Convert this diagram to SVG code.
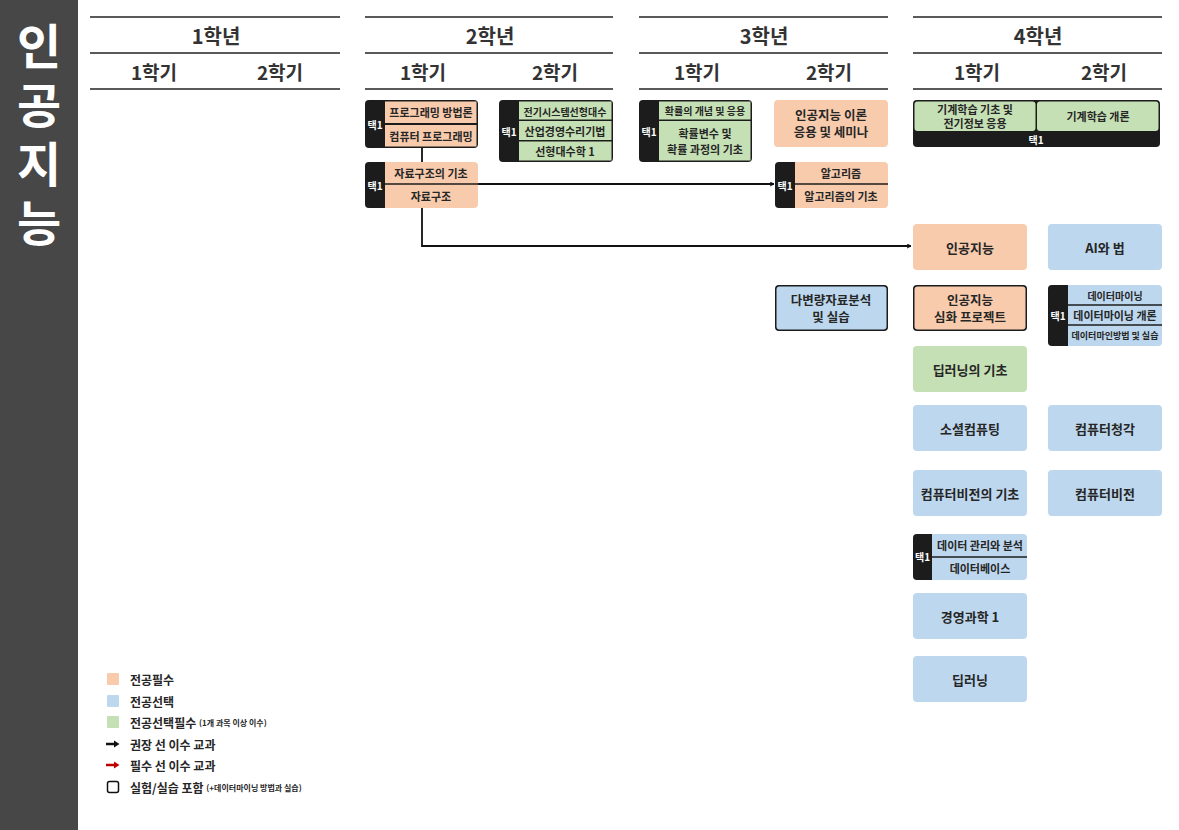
<svg xmlns="http://www.w3.org/2000/svg" width="1179" height="830" viewBox="0 0 1179 830">
<defs>
<style>
text{font-family:"Noto Sans CJK KR","Noto Sans",sans-serif;font-weight:700;fill:#262626;text-anchor:middle;dominant-baseline:central}
.hdr{font-size:20px;fill:#333}
.sem{font-size:19px;fill:#333}
.hl{stroke:#5a5a5a;stroke-width:2}
.pe{fill:#F8CBAD}
.bl{fill:#BDD7EE}
.gr{fill:#C5E0B4}
.dk{fill:#1c1c1c}
.t13{font-size:13px}
.t12{font-size:12.5px}
.t11{font-size:11px}
.t10{font-size:10px}
.tag{font-size:10px;fill:#fff}
.div{stroke:#1c1c1c;stroke-width:1.5}
.con{fill:none;stroke:#111;stroke-width:1.8}
.lg{font-size:12px;text-anchor:start}
.side{font-size:48px;fill:#fff;writing-mode:vertical-rl;text-orientation:upright;letter-spacing:11px}
</style>
<marker id="arr" viewBox="0 0 10 10" refX="9" refY="5" markerWidth="5" markerHeight="5" orient="auto" markerUnits="userSpaceOnUse">
<path d="M1,1 L9,5 L1,9" fill="none" stroke="#111" stroke-width="2"/>
</marker>
</defs>
<rect width="1179" height="830" fill="#fff"/>
<g id="sidebar">
<rect x="0" y="0" width="78" height="830" fill="#474747"/>
<text class="side" x="39" y="140">인공지능</text>
</g>
<g id="header">
<line class="hl" x1="90" y1="17" x2="340" y2="17"/><line class="hl" x1="90" y1="53" x2="340" y2="53"/><line class="hl" x1="90" y1="89" x2="340" y2="89"/>
<line class="hl" x1="365" y1="17" x2="613" y2="17"/><line class="hl" x1="365" y1="53" x2="613" y2="53"/><line class="hl" x1="365" y1="89" x2="613" y2="89"/>
<line class="hl" x1="639" y1="17" x2="888" y2="17"/><line class="hl" x1="639" y1="53" x2="888" y2="53"/><line class="hl" x1="639" y1="89" x2="888" y2="89"/>
<line class="hl" x1="913" y1="17" x2="1162" y2="17"/><line class="hl" x1="913" y1="53" x2="1162" y2="53"/><line class="hl" x1="913" y1="89" x2="1162" y2="89"/>
<text class="hdr" x="216" y="35">1학년</text>
<text class="hdr" x="490" y="35">2학년</text>
<text class="hdr" x="764" y="35">3학년</text>
<text class="hdr" x="1038" y="35">4학년</text>
<text class="sem" x="154" y="71">1학기</text><text class="sem" x="280" y="71">2학기</text>
<text class="sem" x="423" y="71">1학기</text><text class="sem" x="555" y="71">2학기</text>
<text class="sem" x="697" y="71">1학기</text><text class="sem" x="829" y="71">2학기</text>
<text class="sem" x="977" y="71">1학기</text><text class="sem" x="1104" y="71">2학기</text>
</g>
<g id="connectors">
<path class="con" d="M422,148 V246 H911" marker-end="url(#arr)"/>
<path class="con" d="M385,184 H774" marker-end="url(#arr)"/>
</g>
<g id="n-prog">
<rect class="dk" x="365" y="100" width="113" height="48" rx="4"/>
<rect class="pe" x="385" y="101.5" width="91.5" height="21.5"/>
<rect class="pe" x="385" y="125" width="91.5" height="21.5"/>
<text class="tag" x="375" y="124">택1</text>
<text class="t11" x="431" y="112">프로그래밍 방법론</text>
<text class="t11" x="431" y="136">컴퓨터 프로그래밍</text>
</g>
<g id="n-ds">
<rect class="pe" x="365" y="162" width="113" height="46" rx="4"/>
<path class="dk" d="M385,162 H369 a4,4 0 0 0 -4,4 V204 a4,4 0 0 0 4,4 H385 Z"/>
<line class="div" x1="385" y1="184" x2="478" y2="184"/>
<text class="tag" x="375" y="185">택1</text>
<text class="t11" x="431" y="173">자료구조의 기초</text>
<text class="t11" x="431" y="196">자료구조</text>
</g>
<g id="n-linalg">
<rect class="dk" x="499" y="100" width="114" height="62" rx="4"/>
<rect class="gr" x="519" y="101.5" width="92.5" height="18"/>
<rect class="gr" x="519" y="121" width="92.5" height="19"/>
<rect class="gr" x="519" y="141.5" width="92.5" height="19"/>
<text class="tag" x="509" y="131">택1</text>
<text class="t10" x="565" y="111">전기시스템선형대수</text>
<text class="t11" x="565" y="131">산업경영수리기법</text>
<text class="t11" x="565" y="151">선형대수학 1</text>
</g>
<g id="n-prob">
<rect class="dk" x="639" y="100" width="113" height="62" rx="4"/>
<rect class="gr" x="659" y="101.5" width="91.5" height="18"/>
<rect class="gr" x="659" y="121" width="91.5" height="39.5"/>
<text class="tag" x="649" y="131">택1</text>
<text class="t10" x="705" y="110">확률의 개념 및 응용</text>
<text class="t11" x="705" y="133">확률변수 및</text>
<text class="t11" x="705" y="149">확률 과정의 기초</text>
</g>
<g id="n-aiseminar">
<rect class="pe" x="774" y="100" width="114" height="47" rx="4"/>
<text class="t12" x="831" y="114">인공지능 이론</text>
<text class="t12" x="831" y="131.5">응용 및 세미나</text>
</g>
<g id="n-algo">
<rect class="pe" x="775" y="162" width="113" height="46" rx="4"/>
<path class="dk" d="M795,162 H779 a4,4 0 0 0 -4,4 V204 a4,4 0 0 0 4,4 H795 Z"/>
<line class="div" x1="795" y1="184" x2="888" y2="184"/>
<text class="tag" x="785" y="185">택1</text>
<text class="t11" x="841" y="173">알고리즘</text>
<text class="t11" x="841" y="196">알고리즘의 기초</text>
</g>
<g id="n-multivar">
<rect class="dk" x="775" y="285" width="113" height="46" rx="4"/>
<rect class="bl" x="776.5" y="286.5" width="110" height="43" rx="3"/>
<text class="t12" x="831" y="299">다변량자료분석</text>
<text class="t12" x="831" y="316.5">및 실습</text>
</g>
<g id="n-ml">
<rect class="dk" x="913" y="100" width="247" height="47" rx="4"/>
<rect class="gr" x="914.5" y="101.5" width="121" height="29.5" rx="3"/>
<rect class="gr" x="1037" y="101.5" width="121.5" height="29.5" rx="3"/>
<text class="tag" x="1036" y="139">택1</text>
<text class="t11" x="975" y="109">기계학습 기초 및</text>
<text class="t11" x="975" y="123">전기정보 응용</text>
<text class="t11" x="1098" y="116">기계학습 개론</text>
</g>
<g id="n-ai">
<rect class="pe" x="913" y="224" width="114" height="46" rx="4"/>
<text class="t13" x="970" y="247">인공지능</text>
</g>
<g id="n-ailaw">
<rect class="bl" x="1048" y="224" width="114" height="46" rx="4"/>
<text class="t13" x="1105" y="247">AI와 법</text>
</g>
<g id="n-aiproj">
<rect class="dk" x="913" y="285" width="114" height="46" rx="4"/>
<rect class="pe" x="914.5" y="286.5" width="111" height="43" rx="3"/>
<text class="t12" x="970" y="299">인공지능</text>
<text class="t12" x="970" y="316.5">심화 프로젝트</text>
</g>
<g id="n-dm">
<rect class="bl" x="1048" y="285" width="114" height="61" rx="4"/>
<path class="dk" d="M1068,285 H1052 a4,4 0 0 0 -4,4 V342 a4,4 0 0 0 4,4 H1068 Z"/>
<line class="div" x1="1068" y1="305" x2="1162" y2="305"/>
<line class="div" x1="1068" y1="325" x2="1162" y2="325"/>
<text class="tag" x="1058" y="315">택1</text>
<text class="t10" x="1115" y="295">데이터마이닝</text>
<text class="t11" x="1115" y="315">데이터마이닝 개론</text>
<text class="t10" x="1115" y="335" style="font-size:9px">데이터마인방법 및 실습</text>
</g>
<g id="n-dlbasic">
<rect class="gr" x="913" y="346" width="114" height="46" rx="4"/>
<text class="t13" x="970" y="369">딥러닝의 기초</text>
</g>
<g id="n-social">
<rect class="bl" x="913" y="405" width="114" height="46" rx="4"/>
<text class="t13" x="970" y="428">소셜컴퓨팅</text>
</g>
<g id="n-audition">
<rect class="bl" x="1048" y="405" width="114" height="46" rx="4"/>
<text class="t13" x="1105" y="428">컴퓨터청각</text>
</g>
<g id="n-cvbasic">
<rect class="bl" x="913" y="470" width="114" height="46" rx="4"/>
<text class="t13" x="970" y="493">컴퓨터비전의 기초</text>
</g>
<g id="n-cv">
<rect class="bl" x="1048" y="470" width="114" height="46" rx="4"/>
<text class="t13" x="1105" y="493">컴퓨터비전</text>
</g>
<g id="n-db">
<rect class="bl" x="913" y="534" width="114" height="46" rx="4"/>
<path class="dk" d="M932,534 H917 a4,4 0 0 0 -4,4 V576 a4,4 0 0 0 4,4 H932 Z"/>
<line class="div" x1="932" y1="557" x2="1027" y2="557"/>
<text class="tag" x="922.5" y="556">택1</text>
<text class="t11" x="980" y="545">데이터 관리와 분석</text>
<text class="t11" x="980" y="568">데이터베이스</text>
</g>
<g id="n-ms">
<rect class="bl" x="913" y="593" width="114" height="46" rx="4"/>
<text class="t13" x="970" y="616">경영과학 1</text>
</g>
<g id="n-dl">
<rect class="bl" x="913" y="656" width="114" height="46" rx="4"/>
<text class="t13" x="970" y="679">딥러닝</text>
</g>
<g id="legend">
<rect class="pe" x="107" y="673" width="12" height="12" rx="1"/>
<text class="lg" x="130" y="679">전공필수</text>
<rect class="bl" x="107" y="695" width="12" height="12" rx="1"/>
<text class="lg" x="130" y="701">전공선택</text>
<rect class="gr" x="107" y="716" width="12" height="12" rx="1"/>
<text class="lg" x="130" y="722">전공선택필수 <tspan style="font-size:8px">(1개 과목 이상 이수)</tspan></text>
<line x1="106" y1="744" x2="116" y2="744" stroke="#111" stroke-width="2.5"/>
<path d="M114,740.5 L119.5,744 L114,747.5 Z" fill="#111"/>
<text class="lg" x="130" y="744">권장 선 이수 교과</text>
<line x1="106" y1="765" x2="116" y2="765" stroke="#c00000" stroke-width="2.5"/>
<path d="M114,761.5 L119.5,765 L114,768.5 Z" fill="#c00000"/>
<text class="lg" x="130" y="765">필수 선 이수 교과</text>
<rect x="107.5" y="781.5" width="11" height="11" rx="2" fill="none" stroke="#111" stroke-width="1.5"/>
<text class="lg" x="130" y="787">실험/실습 포함 <tspan style="font-size:8px">(+데이터마이닝 방법과 실습)</tspan></text>
</g>
</svg>
